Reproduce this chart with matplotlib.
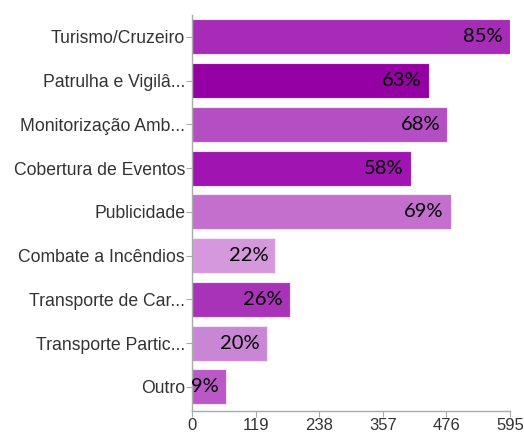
import matplotlib
matplotlib.use("Agg")
import matplotlib.pyplot as plt
from matplotlib.transforms import offset_copy

categories = ["Turismo/Cruzeiro", "Patrulha e Vigilâ...", "Monitorização Amb...",
              "Cobertura de Eventos", "Publicidade", "Combate a Incêndios",
              "Transporte de Car...", "Transporte Partic...", "Outro"]
values = [595, 443, 478, 409, 484, 156, 183, 140, 63]
pct_labels = ["85%", "63%", "68%", "58%", "69%", "22%", "26%", "20%", "9%"]
xticks = [0, 119, 238, 357, 476, 595]
colors = ["#A62BB6", "#9400A4", "#B34FC3", "#A014B1", "#C46FCE",
          "#D698DD", "#A833B9", "#C986D4", "#BB58C7"]

fig = plt.figure(figsize=(5.24, 4.34), dpi=100)
W, H = 524, 434
ax = fig.add_axes([192 / W, 1 - 411 / H, (510 - 192) / W, (411 - 15) / H])

y = list(range(len(categories)))
ax.barh(y, values, height=0.8, color=colors, edgecolor="#F4E6F6", linewidth=0.8)
ax.set_xlim(0, 595)
ax.set_ylim(8.55, -0.5)
ax.set_yticks(y)
ax.set_yticklabels(categories, fontfamily="Liberation Sans", fontsize=12.7, color="#333333")
ax.set_xticks(xticks)
ax.set_xticklabels([str(t) for t in xticks], fontfamily="Liberation Sans", fontsize=12, color="#333333")

for s in ["top", "right"]:
    ax.spines[s].set_visible(False)
for s in ["left", "bottom"]:
    ax.spines[s].set_color("#AAAAAA")
    ax.spines[s].set_linewidth(1.0)
ax.tick_params(axis="both", colors="#AAAAAA", length=4, width=0.8, labelcolor="#333333")
ax.tick_params(axis="y", pad=1)
ax.tick_params(axis="x", pad=1)

trans = offset_copy(ax.transData, fig=fig, x=-7, y=0, units="dots")
for yi, v, lab in zip(y, values, pct_labels):
    ax.text(v, yi, lab, transform=trans, ha="right", va="center",
            fontfamily="Lato", fontsize=14.5, color="black")

fig.savefig("out.png", dpi=100)
